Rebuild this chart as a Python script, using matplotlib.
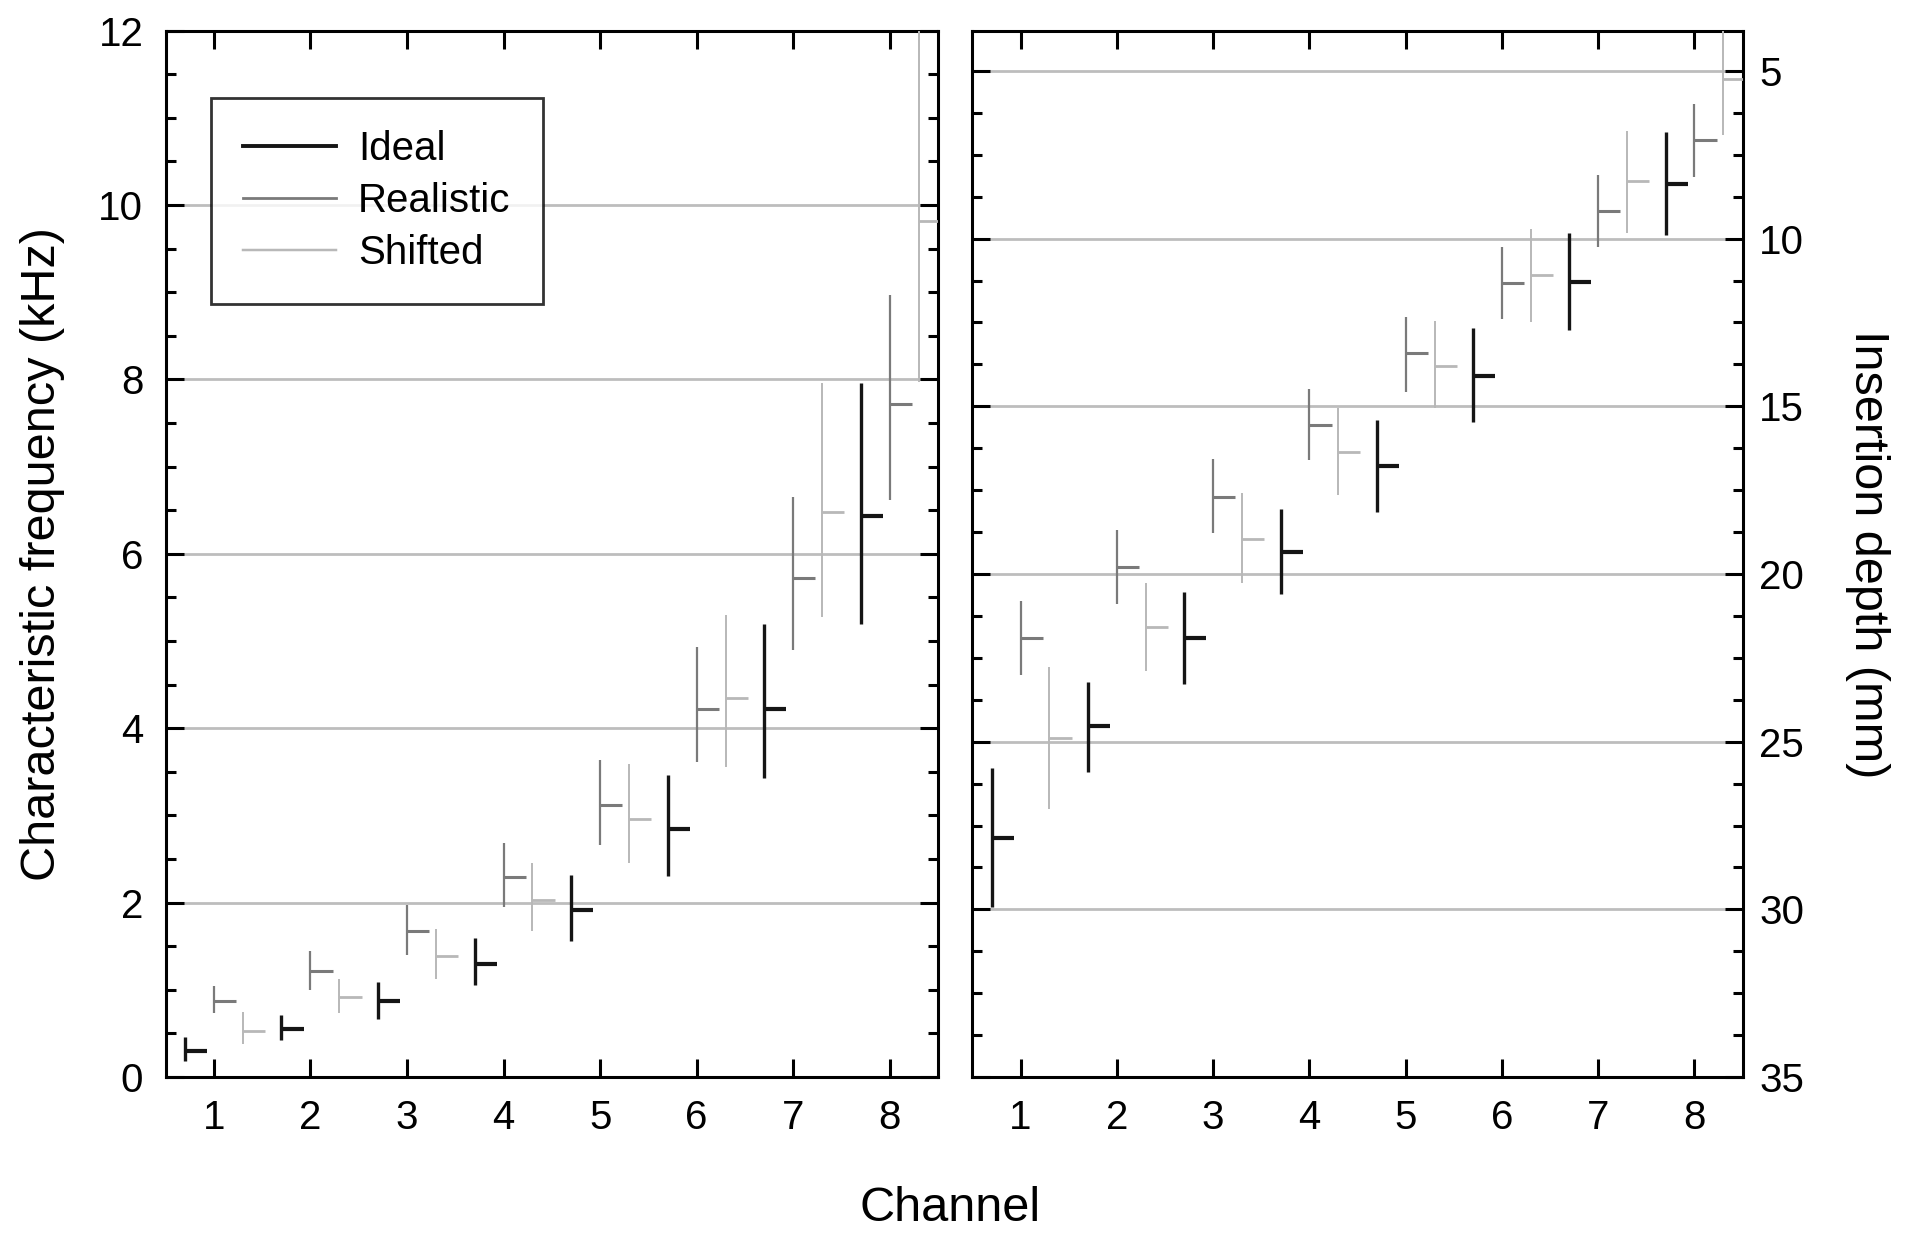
import matplotlib
matplotlib.use("Agg")
import matplotlib.pyplot as plt
from matplotlib.lines import Line2D
from matplotlib.ticker import MultipleLocator
import numpy as np

plt.rcParams['font.family'] = ['Liberation Sans', 'DejaVu Sans']

channels = np.arange(1, 9)

# left panel: characteristic frequency (kHz)
ideal_cf = [0.30, 0.55, 0.87, 1.30, 1.92, 2.84, 4.22, 6.43]
ideal_lo = [0.18, 0.43, 0.66, 1.05, 1.56, 2.30, 3.43, 5.19]
ideal_hi = [0.46, 0.71, 1.09, 1.59, 2.32, 3.46, 5.20, 7.96]

real_cf = [0.87, 1.22, 1.67, 2.29, 3.12, 4.22, 5.72, 7.72]
real_lo = [0.73, 1.00, 1.40, 1.95, 2.66, 3.61, 4.90, 6.62]
real_hi = [1.04, 1.44, 1.97, 2.68, 3.64, 4.93, 6.65, 8.97]

shift_cf = [0.53, 0.92, 1.39, 2.03, 2.96, 4.35, 6.48, 9.82]
shift_lo = [0.38, 0.73, 1.12, 1.67, 2.45, 3.56, 5.28, 7.97]
shift_hi = [0.75, 1.12, 1.70, 2.45, 3.59, 5.30, 7.96, 12.5]

# right panel: insertion depth (mm)
ideal_d = [27.88, 24.54, 21.92, 19.33, 16.78, 14.10, 11.28, 8.36]
ideal_d_top = [25.80, 23.23, 20.55, 18.07, 15.41, 12.68, 9.82, 6.82]
ideal_d_bot = [29.93, 25.89, 23.29, 20.61, 18.15, 15.47, 12.73, 9.88]

real_d = [21.90, 19.78, 17.70, 15.55, 13.42, 11.31, 9.17, 7.06]
real_d_top = [20.80, 18.70, 16.56, 14.47, 12.33, 10.25, 8.11, 5.98]
real_d_bot = [23.00, 20.89, 18.78, 16.61, 14.56, 12.39, 10.25, 8.17]

shift_d = [24.89, 21.58, 18.95, 16.36, 13.79, 11.08, 8.28, 5.25]
shift_d_top = [22.78, 20.27, 17.58, 15.04, 12.45, 9.71, 6.78, 3.0]
shift_d_bot = [27.00, 22.89, 20.27, 17.64, 15.04, 12.50, 9.82, 6.92]

series_names = ['Ideal', 'Realistic', 'Shifted']
colors = ['#151515', '#7a7a7a', '#b8b8b8']
widths = [2.4, 1.6, 1.4]
offsets = [-0.3, 0.0, 0.3]
tick_len = 0.23
grid_col = '#bdbdbd'

fig = plt.figure(figsize=(19.23, 12.36), dpi=100)
ax1 = fig.add_axes([0.0861, 0.1286, 0.4017, 0.8466])
ax2 = fig.add_axes([0.5057, 0.1286, 0.4005, 0.8466])


def draw(ax, data):
    for (mid, lo, hi), col, lw, off in zip(data, colors, widths, offsets):
        x = channels + off
        ax.vlines(x, lo, hi, color=col, lw=lw, zorder=3)
        ax.hlines(mid, x, x + tick_len, color=col, lw=lw + 0.6, zorder=3)


def style(ax):
    ax.set_xlim(0.5, 8.5)
    ax.set_xticks(channels)
    for s in ax.spines.values():
        s.set_linewidth(2.2)
    ax.tick_params(which='both', direction='in', top=True, bottom=True,
                   left=True, right=True, labelsize=29, width=2.2, pad=16)
    ax.tick_params(which='major', length=13)
    ax.tick_params(which='minor', length=7)


draw(ax1, [(ideal_cf, ideal_lo, ideal_hi), (real_cf, real_lo, real_hi),
           (shift_cf, shift_lo, shift_hi)])
for g in [2, 4, 6, 8, 10]:
    ax1.axhline(g, color=grid_col, lw=2, zorder=1)
ax1.set_ylim(0, 12)
ax1.yaxis.set_major_locator(MultipleLocator(2))
ax1.yaxis.set_minor_locator(MultipleLocator(0.5))
style(ax1)
ax1.set_ylabel('Characteristic frequency (kHz)', fontsize=35, labelpad=24)

draw(ax2, [(ideal_d, ideal_d_top, ideal_d_bot), (real_d, real_d_top, real_d_bot),
           (shift_d, shift_d_top, shift_d_bot)])
for g in [5, 10, 15, 20, 25, 30]:
    ax2.axhline(g, color=grid_col, lw=2, zorder=1)
ax2.set_ylim(35, 3.8)
ax2.yaxis.set_major_locator(MultipleLocator(5))
ax2.yaxis.set_minor_locator(MultipleLocator(1.25))
style(ax2)
ax2.tick_params(axis='y', labelleft=False, labelright=True, pad=12)
ax2.yaxis.set_label_position('right')
ax2.set_ylabel('Insertion depth (mm)', fontsize=35, rotation=270, labelpad=62)

handles = [Line2D([], [], color=c, lw=w + 0.4) for c, w in zip(colors, widths)]
leg = ax1.legend(handles, series_names, loc='upper left',
                 bbox_to_anchor=(0.059, 0.936), fontsize=29, frameon=True,
                 fancybox=False, edgecolor='black', handlelength=2.3,
                 handletextpad=0.55, labelspacing=0.35, borderpad=0.8,
                 borderaxespad=0)
leg.get_frame().set_linewidth(2)

fig.text(0.494, 0.022, 'Channel', ha='center', va='center', fontsize=35)

fig.savefig('out.png', dpi=100)
